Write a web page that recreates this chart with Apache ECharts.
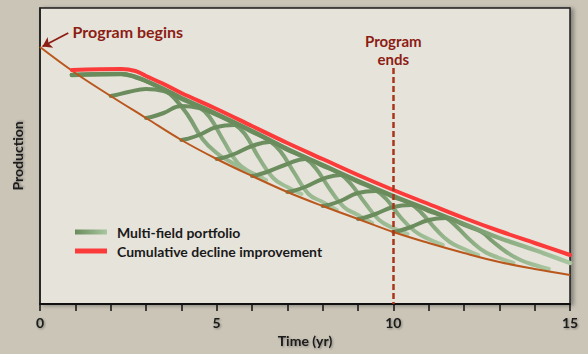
<!DOCTYPE html>
<html>
<head>
<meta charset="utf-8">
<script src="https://cdn.jsdelivr.net/npm/echarts@6/dist/echarts.min.js"></script>
<style>
html,body{margin:0;padding:0;background:#cbc5b8;}
#chart{width:588px;height:354px;}
</style>
</head>
<body>
<div id="chart"></div>
<script>
// ---- data (time in years, production in arbitrary units) ----
const labelYears = [0, 5, 10, 15];
const baseDecline = [[0,257],[1,231],[2,208],[3,186],[4,164],[5,145],[6,128],[7,112],[8,98],[9,85],[10,72],[11,61],[12,51],[13,42],[14,35],[15,29]];
const cumulative = [[0.9,234],[2.3,235],[2.7,233],[3.0,228],[3.5,220],[4,211],[5,195],[6,178],[7,161],[8,145],[9,129],[10,114],[11,100],[12,86],[13,73],[14,61],[15,49]];
const portfolioTop = [[0.9,229],[2.3,230],[2.7,227],[3.0,223],[3.5,215],[4,206],[5,190],[6,173],[7,155],[8,139],[9,123],[10,108],[11,94],[12,80],[13,66],[14,54],[15,41]];
const field1 = [[0.9,229],[2.3,230],[2.7,227],[3.0,223],[3.5,214],[3.8,206],[4.2,188],[4.6,165],[5.0,151],[5.4,142],[5.8,134],[6.3,126]];
const field2 = [[2,208],[2.15,209],[2.5,212],[3.0,215],[3.5,213],[4.0,205],[4.5,197],[4.8,187],[5.2,163],[5.6,141],[6.0,131],[6.4,124]];
const field3 = [[3,186],[3.15,187],[3.5,191],[4.0,198],[4.5,196],[5.0,189],[5.5,180],[5.8,170],[6.2,146],[6.6,126],[7.0,117],[7.4,110]];
const field4 = [[4,164],[4.15,165],[4.5,169],[5.0,177],[5.5,179],[6.0,172],[6.5,163],[6.8,153],[7.2,131],[7.6,110],[8.0,102],[8.4,94]];
const field5 = [[5,145],[5.15,146],[5.5,150],[6.0,158],[6.5,162],[7.0,154],[7.5,146],[7.8,136],[8.2,115],[8.6,97],[9.0,89],[9.4,81]];
const field6 = [[6,128],[6.15,129],[6.5,133],[7.0,140],[7.5,145],[8.0,138],[8.5,130],[8.8,120],[9.2,101],[9.6,84],[10.0,76],[10.4,70]];
const field7 = [[7,112],[7.15,113],[7.5,117],[8.0,125],[8.5,129],[9.0,122],[9.5,114],[9.8,105],[10.2,87],[10.6,73],[11.0,65],[11.4,59]];
const field8 = [[8,98],[8.15,99],[8.5,103],[9.0,111],[9.5,113],[10.0,107],[10.5,100],[10.8,91],[11.2,75],[11.6,62],[12.0,55],[12.4,49]];
const field9 = [[9,85],[9.15,86],[9.5,90],[10.0,97],[10.5,99],[11.0,93],[11.5,86],[11.8,77],[12.2,63],[12.6,52],[13.0,46],[13.4,41]];
const field10 = [[10,72],[10.15,73],[10.5,77],[11.0,84],[11.5,86],[12.0,79],[12.5,72],[12.8,63],[13.2,52],[13.6,44],[14.0,39],[14.4,35]];
const programEnd = 10;
const programEndTop = 236;
const beginsArrow = [[0.8, 271], [0.07, 257.5]];
const beginsLabelAt = [0.88, 273];

// ---- styles ----
const DARK = '#6a8c5c', LIGHT = '#a9c6a0', RED = '#fb3a3a', BROWN = '#b9571c', ANNOT = '#8c1d14';
const FONT = 'Lato, "Open Sans", sans-serif';
function grad(stops) {
  return new echarts.graphic.LinearGradient(0, 0, 1, 0, stops.map(s => ({offset: s[0], color: s[1]})));
}
const fieldGrad = () => grad([[0, DARK], [0.55, '#6f9163'], [0.78, '#94b48b'], [1, LIGHT]]);
const topGrad = () => grad([[0, DARK], [0.74, DARK], [0.86, '#8aab80'], [1, LIGHT]]);
const shadowText = {textShadowColor: 'rgba(0,0,0,0.35)', textShadowBlur: 2, textShadowOffsetX: 1, textShadowOffsetY: 1};

const fields = [field1, field2, field3, field4, field5, field6, field7, field8, field9, field10];
const series = [];
fields.forEach(f => series.push({
  name: 'Multi-field portfolio', type: 'line', data: f, smooth: 0.45, showSymbol: false,
  lineStyle: {width: 4, color: fieldGrad(), cap: 'round'}, itemStyle: {color: DARK}, z: 2, silent: true
}));
series.push({
  name: 'Multi-field portfolio', type: 'line', data: portfolioTop, smooth: 0.4, showSymbol: false,
  lineStyle: {width: 4.5, color: topGrad(), cap: 'round'}, itemStyle: {color: DARK}, z: 3, silent: true
});
series.push({
  name: 'base', type: 'line', data: baseDecline, smooth: 0.4, showSymbol: false,
  lineStyle: {width: 2, color: BROWN}, itemStyle: {color: BROWN}, z: 4, silent: true,
  markLine: {
    silent: true, symbol: ['none', 'none'], z: 6,
    lineStyle: {color: '#a8361c', width: 2.5, type: [6, 3]},
    label: {show: true, position: 'start', formatter: 'Program\nends', color: ANNOT,
      fontFamily: FONT, fontWeight: 'bold', fontSize: 15, lineHeight: 18, distance: 0},
    data: [[{coord: [programEnd, programEndTop]}, {coord: [programEnd, 0]}]]
  },
  markPoint: {
    silent: true, symbol: 'circle', symbolSize: 1, itemStyle: {color: 'rgba(0,0,0,0)'},
    label: {show: true, position: 'right', distance: 1, formatter: 'Program begins', color: ANNOT,
      fontFamily: FONT, fontWeight: 'bold', fontSize: 16},
    data: [{coord: beginsLabelAt}]
  }
});
series.push({
  name: 'arrow', type: 'line', data: [], z: 6,
  markLine: {
    silent: true, symbol: ['none', 'arrow'], symbolSize: 9,
    lineStyle: {color: ANNOT, width: 1.8, type: 'solid'}, label: {show: false},
    data: [[{coord: beginsArrow[0]}, {coord: beginsArrow[1]}]]
  }
});
series.push({
  name: 'Cumulative decline improvement', type: 'line', data: cumulative, smooth: 0.35, showSymbol: false,
  lineStyle: {width: 4, color: RED, cap: 'round'}, itemStyle: {color: RED}, z: 5, silent: true
});

const chart = echarts.init(document.getElementById('chart'), null, {renderer: 'svg'});
chart.setOption({
  backgroundColor: '#cbc5b8',
  animation: false,
  grid: {left: 40, right: 18, top: 8, bottom: 50, show: true, backgroundColor: '#e6e3db',
    borderColor: '#1e1e1e', borderWidth: 1.5, shadowColor: 'rgba(0,0,0,0.35)', shadowBlur: 4, shadowOffsetX: 3, shadowOffsetY: 1},
  legend: {
    left: 75, top: 225, orient: 'vertical', padding: 0, itemGap: 5, itemWidth: 32, itemHeight: 5,
    icon: 'rect', selectedMode: false,
    textStyle: {fontFamily: FONT, fontWeight: 'bold', fontSize: 14, color: '#1a1a1a', padding: [0, 0, 0, 5]},
    data: [
      {name: 'Multi-field portfolio', itemStyle: {color: grad([[0, DARK], [1, LIGHT]])}},
      {name: 'Cumulative decline improvement', itemStyle: {color: RED}}
    ]
  },
  xAxis: {
    type: 'value', min: 0, max: 15, interval: 1,
    name: 'Time (yr)', nameLocation: 'middle', nameGap: 28,
    nameTextStyle: Object.assign({fontFamily: FONT, fontWeight: 'bold', fontSize: 14, color: '#1a1a1a'}, shadowText),
    axisLine: {show: true, lineStyle: {color: '#111', width: 2}},
    axisTick: {show: true, length: 7, lineStyle: {color: '#111', width: 1.5}},
    axisLabel: Object.assign({margin: 11, fontFamily: FONT, fontWeight: 'bold', fontSize: 14, color: '#1a1a1a',
      formatter: v => labelYears.includes(v) ? String(v) : ''}, shadowText),
    splitLine: {show: false}
  },
  yAxis: {
    type: 'value', min: 0, max: 296,
    name: 'Production', nameLocation: 'middle', nameGap: 16,
    nameTextStyle: Object.assign({fontFamily: FONT, fontWeight: 'bold', fontSize: 14, color: '#1a1a1a'}, shadowText),
    axisLine: {show: true, lineStyle: {color: '#1e1e1e', width: 1.5}},
    axisTick: {show: false}, axisLabel: {show: false}, splitLine: {show: false}
  },
  series: series
});
</script>
</body>
</html>
